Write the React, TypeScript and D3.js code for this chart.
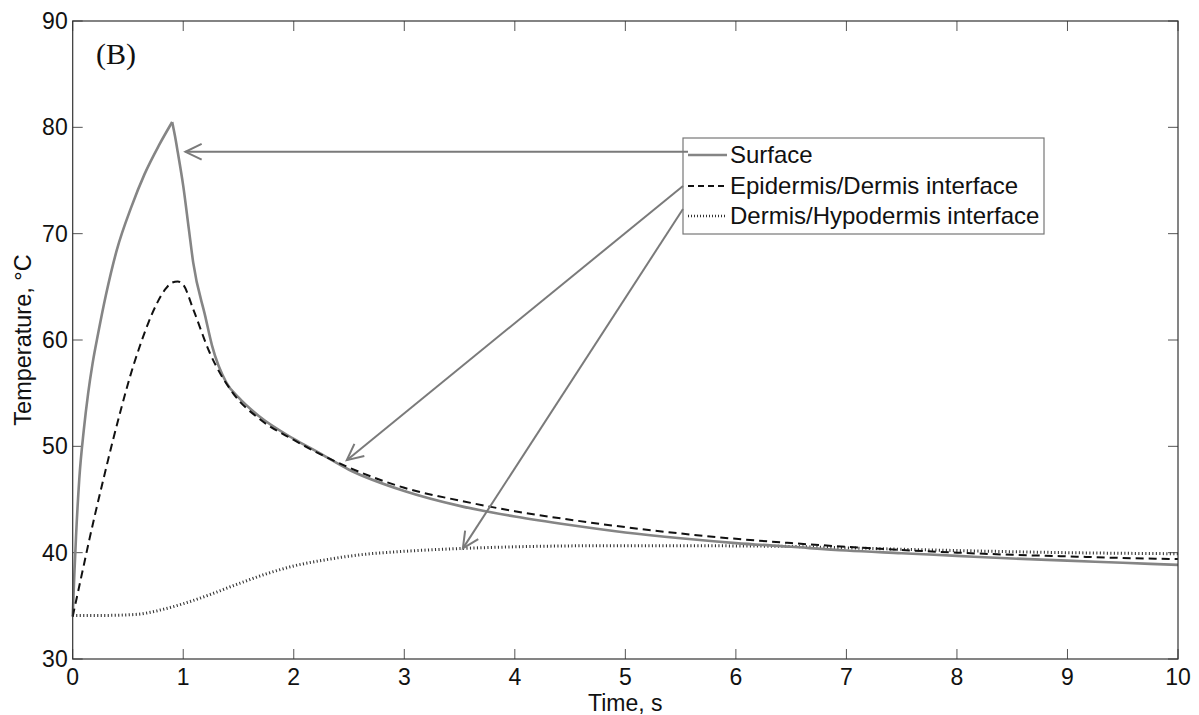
import React from "react";
import * as d3 from "d3";

// Time axis (s) and temperature axis (°C) ticks
const xTicks = [0, 1, 2, 3, 4, 5, 6, 7, 8, 9, 10];
const yTicks = [30, 40, 50, 60, 70, 80, 90];

// Surface temperature: heating phase (up to the peak) and cooling phase
const surfaceRiseTime = [0, 0.015, 0.03, 0.06, 0.1, 0.14, 0.18, 0.23, 0.3, 0.4, 0.53, 0.65, 0.78, 0.9];
const surfaceRiseTemp = [34, 38, 41.5, 47, 51.5, 55, 57.8, 60.6, 64.2, 68.5, 72.5, 75.6, 78.3, 80.5];
const surfaceFallTime = [0.9, 0.925, 0.95, 1.0, 1.05, 1.09, 1.2, 1.26, 1.39, 1.5, 1.69, 2.0, 2.21, 2.5, 3.0, 3.5, 4.0, 4.5, 5.0, 5.5, 6.0, 6.5, 7.0, 7.5, 8.0, 8.5, 9.0, 9.5, 10];
const surfaceFallTemp = [80.5, 79.2, 77.7, 74.5, 70.5, 67.3, 62.2, 59.5, 56.0, 54.6, 52.8, 50.7, 49.5, 47.8, 45.8, 44.4, 43.4, 42.6, 41.9, 41.35, 40.9, 40.55, 40.2, 39.95, 39.7, 39.45, 39.25, 39.05, 38.85];

// Epidermis/Dermis interface temperature
const epiTime = [0, 0.05, 0.1, 0.15, 0.2, 0.28, 0.36, 0.44, 0.52, 0.6, 0.68, 0.76, 0.84, 0.9, 0.95, 1.0, 1.09, 1.24, 1.45, 1.7, 2.0, 2.5, 3.0, 3.5, 4.0, 4.5, 5, 5.5, 6, 6.5, 7, 7.5, 8, 8.5, 9, 9.5, 10];
const epiTemp = [34, 36.4, 38.8, 41.2, 43.5, 47.0, 50.4, 53.6, 56.6, 59.2, 61.5, 63.4, 64.8, 65.4, 65.5, 65.2, 62.9, 58.8, 55.0, 52.5, 50.6, 48.0, 46.1, 44.9, 43.9, 43.1, 42.4, 41.8, 41.3, 40.9, 40.55, 40.25, 40.0, 39.8, 39.65, 39.5, 39.4];

// Dermis/Hypodermis interface temperature
const dermTime = [0, 0.3, 0.58, 0.79, 1.0, 1.24, 1.48, 1.75, 2.0, 2.3, 2.6, 2.96, 3.53, 4.0, 4.77, 5.5, 6.4, 7, 8, 9, 10];
const dermTemp = [34.1, 34.1, 34.2, 34.6, 35.2, 36.05, 37.0, 38.0, 38.75, 39.35, 39.8, 40.1, 40.4, 40.55, 40.65, 40.65, 40.6, 40.45, 40.2, 40.0, 39.9];

// Legend labels and the point each annotation arrow points at (time, temperature)
const legendLabels = ["Surface", "Epidermis/Dermis interface", "Dermis/Hypodermis interface"];
const arrowTipTime = [1.02, 2.48, 3.53];
const arrowTipTemp = [77.7, 48.7, 40.4];

const W = 1199;
const H = 715;
const M = { left: 72.7, right: 1178, top: 21, bottom: 659 };
const FONT = "Arial, 'Liberation Sans', Helvetica, sans-serif";

const zip = (xs: number[], ys: number[]) => xs.map((x, i) => [x, ys[i]] as [number, number]);

export default function App() {
  const x = d3.scaleLinear().domain([0, 10]).range([M.left, M.right]);
  const y = d3.scaleLinear().domain([30, 90]).range([M.bottom, M.top]);

  const line = d3
    .line<[number, number]>()
    .x((d) => x(d[0]))
    .y((d) => y(d[1]))
    .curve(d3.curveMonotoneX);

  const surfaceRise = line(zip(surfaceRiseTime, surfaceRiseTemp)) || "";
  const surfaceFall = line(zip(surfaceFallTime, surfaceFallTemp)) || "";
  const epi = line(zip(epiTime, epiTemp)) || "";
  const derm = line(zip(dermTime, dermTemp)) || "";

  const styles = [
    { stroke: "#858585", width: 2.6, dash: "none" },
    { stroke: "#111", width: 2, dash: "8,5" },
    { stroke: "#333", width: 3, dash: "1.1,2.4" },
  ];

  // legend box
  const lg = { x: 683, y: 138, w: 361, h: 96 };
  const rowY = [155, 186, 216];
  const sampleX0 = lg.x + 5;
  const sampleX1 = lg.x + 44;
  const arrowTailY = [null, 186, 209];

  const arrowHead = (x0: number, y0: number, x1: number, y1: number) => {
    const ang = Math.atan2(y1 - y0, x1 - x0);
    const len = 18;
    const spread = 0.45;
    const a1 = ang + Math.PI - spread;
    const a2 = ang + Math.PI + spread;
    return `M${x1 + len * Math.cos(a1)},${y1 + len * Math.sin(a1)}L${x1},${y1}L${x1 + len * Math.cos(a2)},${y1 + len * Math.sin(a2)}`;
  };

  const tickLen = 10;

  return (
    <div style={{ position: "fixed", left: 0, top: 0, width: W, height: H, background: "#fff" }}>
      <svg width={W} height={H} style={{ display: "block" }} fontFamily={FONT}>
        <rect x={0} y={0} width={W} height={H} fill="#fff" />

        {/* ticks on all four sides, pointing inward */}
        <g stroke="#555" strokeWidth={1}>
          {xTicks.map((t) => (
            <g key={"xt" + t}>
              <line x1={x(t)} x2={x(t)} y1={M.bottom} y2={M.bottom - tickLen} />
              <line x1={x(t)} x2={x(t)} y1={M.top} y2={M.top + tickLen} />
            </g>
          ))}
          {yTicks.map((t) => (
            <g key={"yt" + t}>
              <line x1={M.left} x2={M.left + tickLen} y1={y(t)} y2={y(t)} />
              <line x1={M.right} x2={M.right - tickLen} y1={y(t)} y2={y(t)} />
            </g>
          ))}
        </g>

        {/* data curves */}
        <path d={derm} fill="none" stroke={styles[2].stroke} strokeWidth={styles[2].width} strokeDasharray={styles[2].dash} />
        <path d={surfaceRise} fill="none" stroke={styles[0].stroke} strokeWidth={styles[0].width} strokeLinejoin="miter" />
        <path d={surfaceFall} fill="none" stroke={styles[0].stroke} strokeWidth={styles[0].width} strokeLinejoin="miter" />
        <path d={epi} fill="none" stroke={styles[1].stroke} strokeWidth={styles[1].width} strokeDasharray={styles[1].dash} />

        {/* axes box */}
        <rect x={M.left} y={M.top} width={M.right - M.left} height={M.bottom - M.top} fill="none" stroke="#333" strokeWidth={1.2} />

        {/* tick labels */}
        <g fontSize={23} fill="#111">
          {xTicks.map((t) => (
            <text key={"xl" + t} x={x(t)} y={M.bottom + 26} textAnchor="middle">
              {t}
            </text>
          ))}
          {yTicks.map((t) => (
            <text key={"yl" + t} x={M.left - 5} y={y(t) + 8} textAnchor="end">
              {t}
            </text>
          ))}
        </g>

        {/* axis titles */}
        <text x={x(5)} y={711} fontSize={23} textAnchor="middle" fill="#111">
          Time, s
        </text>
        <text
          transform={`translate(31,${(M.top + M.bottom) / 2}) rotate(-90)`}
          fontSize={23.5}
          textAnchor="middle"
          fill="#111"
        >
          Temperature, °C
        </text>

        {/* panel label */}
        <text x={96} y={64} fontSize={30} fontFamily="'Times New Roman', 'Liberation Serif', serif" fill="#111">
          (B)
        </text>

        {/* legend */}
        <rect x={lg.x} y={lg.y} width={lg.w} height={lg.h} fill="#fff" stroke="#777" strokeWidth={1.2} />
        {legendLabels.map((lab, i) => (
          <g key={lab}>
            <line
              x1={sampleX0}
              x2={sampleX1}
              y1={rowY[i]}
              y2={rowY[i]}
              stroke={styles[i].stroke}
              strokeWidth={i === 2 ? 2.5 : styles[i].width}
              strokeDasharray={i === 1 ? "6,4" : i === 2 ? "1,2" : "none"}
            />
            <text x={sampleX1 + 3} y={rowY[i] + 8} fontSize={24} fill="#111">
              {lab}
            </text>
          </g>
        ))}

        {/* annotation arrows from legend entries to curves */}
        <g stroke="#7a7a7a" strokeWidth={2} fill="none">
          {arrowTipTime.map((t, i) => {
            const x0 = i === 0 ? sampleX0 : lg.x;
            const y0 = i === 0 ? y(arrowTipTemp[0]) : (arrowTailY[i] as number);
            const x1 = x(t);
            const y1 = y(arrowTipTemp[i]);
            return (
              <g key={"ar" + i}>
                <line x1={x0} y1={y0} x2={x1} y2={y1} />
                <path d={arrowHead(x0, y0, x1, y1)} />
              </g>
            );
          })}
        </g>
      </svg>
    </div>
  );
}
